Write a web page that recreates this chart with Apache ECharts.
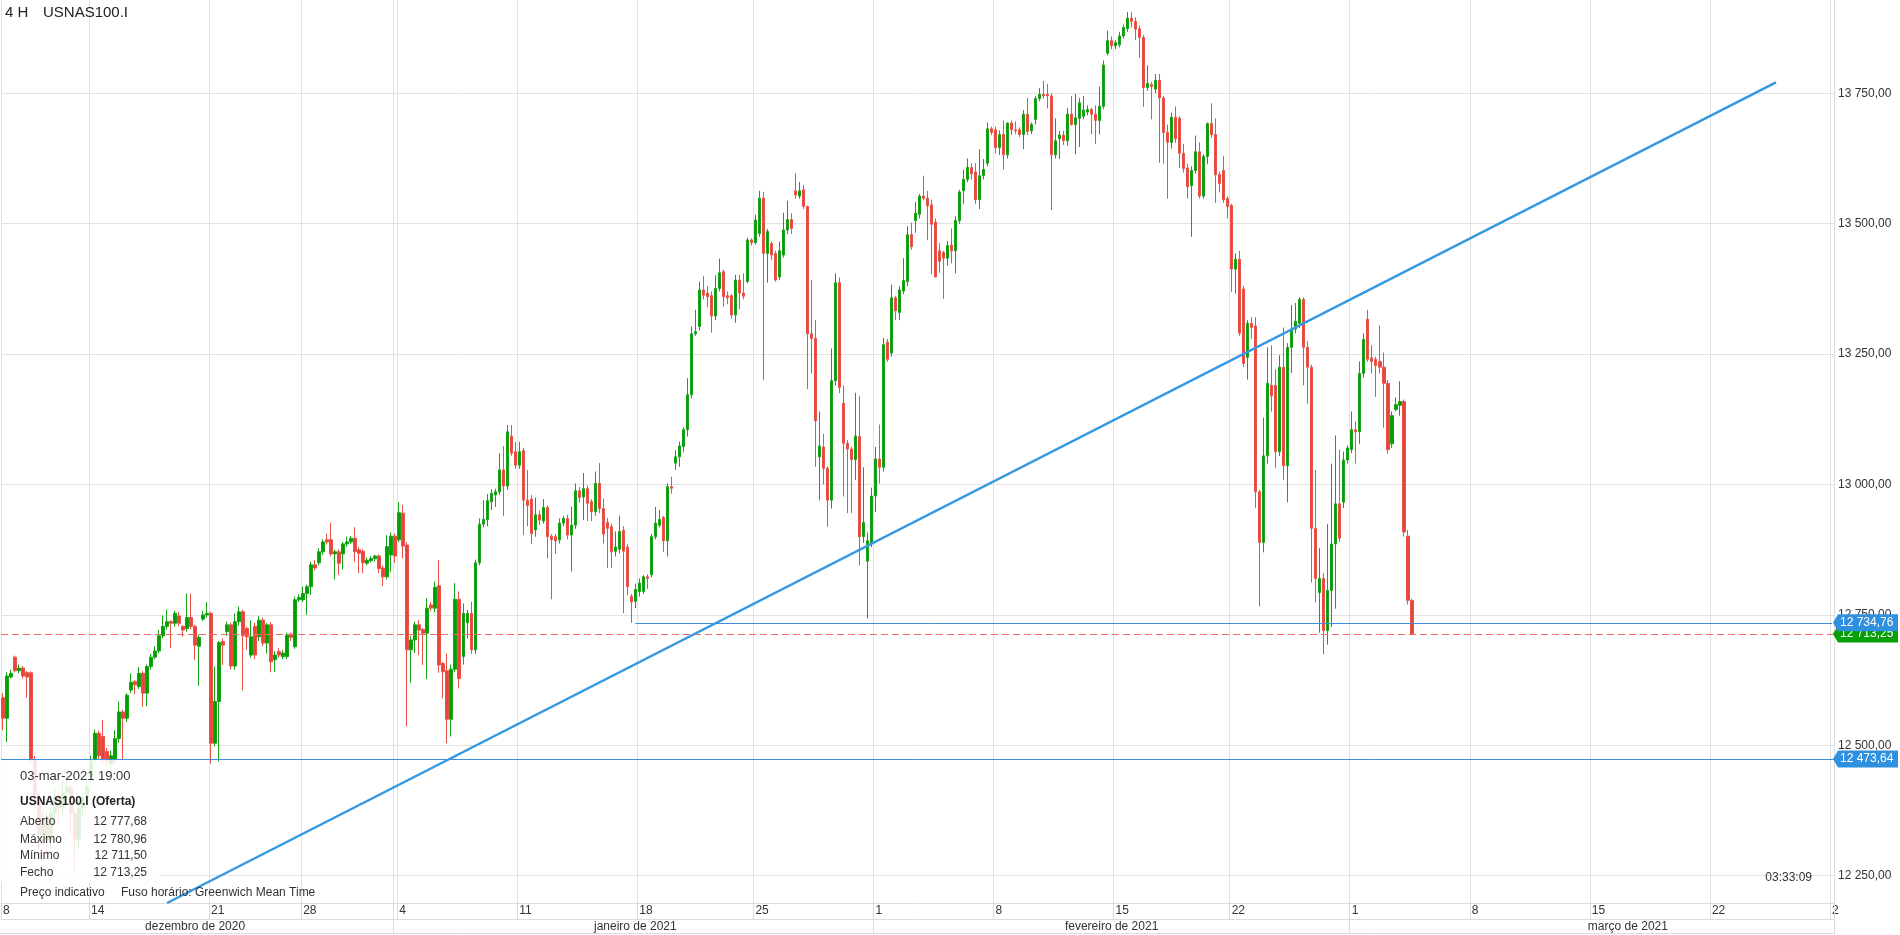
<!DOCTYPE html>
<html><head><meta charset="utf-8">
<script src="https://cdn.jsdelivr.net/npm/echarts@6/dist/echarts.min.js"></script>
<style>html,body{margin:0;padding:0;background:#fff;}#c{width:1900px;height:935px;}</style>
</head><body><div id="c"></div>
<script>
const opens=[
12591,12552,12631,12669,12643,12648,12640,12639,12472,12400,
12330,12360,12320,12370,12400,12380,12410,12420,12370,12320,
12380,12400,12440,12472,12523,12517,12488,12465,12472,12513,
12564,12552,12606,12622,12613,12638,12600,12651,12669,12681,
12710,12728,12737,12734,12748,12728,12724,12745,12728,12690,
12742,12750,12753,12504,12584,12699,12718,12731,12652,12737,
12756,12724,12673,12728,12708,12740,12696,12731,12664,12680,
12670,12670,12713,12689,12779,12779,12791,12804,12846,12850,
12871,12894,12894,12867,12871,12867,12886,12890,12897,12875,
12872,12849,12854,12858,12863,12840,12823,12865,12901,12894,
12945,12884,12683,12702,12731,12722,12715,12769,12763,12806,
12657,12643,12550,12646,12780,12670,12735,12753,12683,12850,
12924,12933,12967,12980,12986,13028,12997,13093,13063,13037,
13065,12970,12972,12913,12942,12930,12956,12901,12900,12894,
12926,12935,12903,12922,12988,12976,12992,12967,12948,13002,
12954,12927,12919,12872,12876,12912,12880,12786,12776,12795,
12795,12823,12827,12900,12922,12937,12892,12996,13041,13053,
13073,13105,13172,13289,13303,13373,13367,13362,13323,13376,
13408,13362,13362,13325,13392,13367,13389,13469,13464,13481,
13549,13443,13462,13443,13398,13440,13488,13508,13563,13553,
13565,13533,13289,13280,13053,13072,13031,12970,13199,13387,
13156,13079,13068,13048,13092,12900,12853,12888,12978,13049,
13033,13273,13252,13358,13330,13371,13389,13479,13506,13518,
13553,13549,13536,13503,13448,13445,13434,13459,13448,13506,
13563,13585,13608,13599,13546,13592,13616,13682,13680,13646,
13671,13632,13693,13680,13680,13671,13710,13678,13700,13740,
13748,13748,13745,13632,13663,13670,13659,13710,13690,13702,
13706,13714,13719,13710,13698,13725,13827,13851,13841,13843,
13860,13874,13894,13888,13874,13857,13761,13767,13758,13775,
13741,13675,13656,13704,13702,13635,13607,13573,13602,13638,
13553,13629,13692,13671,13594,13602,13548,13535,13413,13432,
13375,13244,13309,13304,12986,12889,13055,13190,13190,13063,
13225,13036,13263,13298,13309,13355,13263,13225,12916,12793,
12820,12720,12797,12886,12963,12966,13047,13067,13105,13101,
13213,13317,13243,13240,13236,13225,13194,13078,13144,13152,
13159,12901,12777.68];
const closes=[
12552,12633,12638,12643,12648,12633,12631,12472,12400,12330,
12360,12320,12370,12400,12380,12410,12420,12370,12320,12380,
12400,12420,12470,12523,12480,12472,12470,12480,12513,12564,
12552,12596,12621,12616,12638,12600,12651,12669,12681,12710,
12728,12737,12734,12753,12734,12721,12745,12728,12692,12707,
12750,12753,12504,12584,12697,12692,12731,12652,12737,12756,
12710,12708,12708,12673,12740,12696,12731,12660,12673,12673,
12677,12711,12707,12779,12784,12791,12804,12846,12840,12871,
12890,12890,12867,12871,12849,12886,12890,12897,12871,12868,
12850,12855,12858,12863,12839,12823,12881,12901,12863,12946,
12882,12683,12702,12731,12721,12715,12763,12763,12803,12654,
12641,12550,12646,12780,12628,12753,12753,12683,12850,12924,
12933,12969,12983,12986,13028,12997,13101,13060,13037,13063,
12970,12960,12906,12942,12932,12956,12900,12894,12892,12926,
12935,12903,12922,12988,12975,12992,12964,12948,13002,12954,
12905,12916,12871,12880,12910,12872,12804,12775,12799,12811,
12823,12820,12900,12926,12933,12892,12996,12993,13053,13074,
13105,13172,13289,13293,13373,13363,13360,13323,13376,13406,
13360,13358,13325,13392,13367,13361,13469,13464,13507,13549,
13443,13485,13440,13392,13448,13488,13508,13491,13555,13563,
13533,13289,13280,13122,13074,13031,12970,13199,13387,13186,
13079,13068,13048,13093,12900,12927,12892,12978,13049,13033,
13268,13240,13358,13333,13373,13391,13479,13456,13520,13553,
13549,13534,13499,13398,13428,13434,13458,13448,13506,13561,
13585,13608,13596,13546,13592,13604,13682,13675,13646,13671,
13632,13693,13680,13678,13671,13710,13677,13690,13740,13748,
13745,13745,13632,13659,13670,13659,13710,13690,13703,13732,
13718,13719,13710,13698,13725,13804,13851,13841,13847,13860,
13876,13894,13888,13873,13857,13761,13769,13763,13775,13741,
13675,13656,13704,13663,13635,13606,13571,13602,13638,13553,
13629,13692,13671,13594,13577,13546,13533,13413,13432,13290,
13232,13309,13301,12986,12889,13055,13194,13170,13063,13225,
13036,13263,13298,13313,13355,13263,13225,12916,12820,12820,
12720,12797,12886,12963,12897,13047,13070,13105,13101,13213,
13278,13240,13236,13228,13225,13194,13067,13132,13153,13159,
12909,12778,12713.25];
const lows=[
12529,12506,12628,12640,12638,12628,12591,12465,12380,12300,
12310,12290,12300,12360,12350,12370,12395,12330,12260,12300,
12365,12390,12430,12465,12470,12465,12460,12455,12465,12505,
12472,12545,12600,12598,12608,12574,12575,12645,12665,12676,
12705,12722,12686,12728,12728,12708,12718,12722,12664,12614,
12738,12745,12465,12498,12469,12654,12710,12645,12645,12730,
12605,12683,12668,12665,12700,12690,12676,12640,12641,12668,
12665,12665,12700,12685,12775,12775,12750,12788,12835,12845,
12865,12885,12862,12818,12826,12837,12880,12886,12852,12830,
12830,12845,12850,12852,12830,12805,12818,12832,12850,12890,
12858,12536,12620,12677,12673,12654,12627,12757,12755,12639,
12590,12504,12517,12640,12609,12655,12705,12675,12675,12845,
12918,12920,12951,12957,12980,12940,12990,13055,13030,13030,
12903,12920,12886,12900,12922,12925,12858,12780,12867,12887,
12920,12895,12833,12915,12965,12932,12930,12930,12940,12945,
12887,12840,12840,12862,12868,12753,12788,12735,12763,12785,
12790,12800,12822,12895,12918,12871,12862,12983,13028,13034,
13062,13092,13165,13285,13295,13355,13340,13291,13315,13370,
13341,13346,13318,13310,13336,13355,13386,13458,13460,13475,
13200,13387,13430,13389,13392,13435,13480,13480,13548,13548,
13528,13183,13213,13034,12970,13000,12919,12954,13190,13175,
12977,12945,12945,13009,12845,12888,12743,12880,12947,13002,
13025,13235,13245,13315,13315,13365,13380,13450,13483,13510,
13545,13469,13403,13397,13406,13356,13420,13424,13405,13500,
13538,13580,13585,13538,13528,13585,13610,13670,13635,13632,
13604,13625,13670,13672,13666,13643,13670,13672,13690,13735,
13740,13721,13526,13625,13624,13651,13650,13688,13633,13647,
13700,13708,13671,13653,13671,13720,13823,13835,13835,13838,
13855,13868,13876,13852,13818,13724,13755,13700,13750,13617,
13615,13548,13644,13655,13607,13598,13548,13475,13596,13548,
13548,13614,13665,13540,13560,13540,13510,13369,13366,13285,
13225,13201,13279,12955,12766,12870,13040,13140,13032,13055,
13009,12966,13214,13290,13300,13190,13155,12812,12774,12716,
12674,12693,12727,12762,12890,12955,13040,13060,13040,13078,
13205,13235,13213,13168,13213,13109,13059,13070,13140,13132,
12900,12770,12711.50];
const highs=[
12600,12640,12645,12672,12655,12652,12642,12642,12480,12410,
12375,12370,12380,12420,12410,12430,12440,12425,12380,12390,
12410,12440,12480,12530,12528,12549,12495,12490,12529,12584,
12568,12600,12638,12625,12650,12642,12655,12675,12690,12721,
12749,12760,12740,12758,12756,12730,12791,12791,12731,12712,
12758,12775,12756,12651,12700,12705,12737,12735,12753,12766,
12760,12728,12740,12735,12748,12745,12735,12736,12680,12686,
12683,12716,12716,12785,12790,12804,12808,12852,12855,12878,
12895,12906,12927,12875,12876,12890,12900,12901,12918,12880,
12876,12860,12863,12865,12866,12845,12903,12908,12906,12966,
12961,12890,12710,12737,12740,12725,12782,12775,12814,12855,
12660,12676,12655,12811,12795,12772,12760,12775,12856,12935,
12970,12982,12991,12992,13060,13074,13114,13114,13082,13082,
13070,13028,12980,12975,12950,12972,12960,12905,12905,12935,
12940,12942,12957,13002,12995,13022,12998,12972,13025,13041,
12973,12936,12925,12910,12940,12920,12885,12790,12810,12820,
12826,12828,12905,12957,12951,12940,13002,13015,13066,13082,
13110,13204,13303,13335,13389,13400,13380,13370,13401,13433,
13412,13370,13365,13402,13402,13405,13473,13472,13517,13563,
13561,13490,13466,13448,13466,13521,13544,13520,13597,13580,
13574,13535,13392,13315,13140,13097,13035,13261,13405,13397,
13190,13085,13072,13176,13170,13033,12908,12994,13072,13115,
13281,13279,13383,13362,13380,13434,13495,13502,13542,13557,
13592,13563,13546,13510,13463,13448,13467,13491,13514,13565,
13604,13625,13616,13616,13643,13624,13694,13686,13686,13679,
13698,13694,13698,13696,13685,13718,13741,13694,13745,13760,
13774,13768,13750,13702,13678,13678,13722,13745,13749,13741,
13745,13727,13722,13727,13763,13813,13870,13859,13852,13868,
13882,13906,13906,13896,13880,13862,13804,13772,13787,13787,
13745,13690,13713,13725,13706,13653,13615,13610,13669,13656,
13633,13694,13731,13702,13600,13630,13553,13538,13443,13448,
13381,13315,13321,13321,12990,13128,13263,13267,13221,13248,
13301,13271,13344,13348,13359,13359,13275,13230,13028,12878,
12830,12924,13040,13094,13067,13063,13075,13140,13121,13236,
13290,13335,13267,13245,13305,13253,13200,13140,13167,13198,
13163,12913,12780.96];

// axis content
const totalSlots = 458;                 // 4H slots shown on the time axis (history + empty future)
const weekTickIndex  = [0,22,52,75,99,129,159,188,218,248,278,307,337,367,397,427,457];
const weekTickLabels = ['8','14','21','28','4','11','18','25','1','8','15','22','1','8','15','22','2'];
const monthSepIndex  = [98,218,337];
const monthLabelIndex = [48,158,277,406];
const monthLabels = ['dezembro de 2020','janeiro de 2021','fevereiro de 2021','março de 2021'];
const yTickValues = [12250,12500,12750,13000,13250,13500,13750];
const yMin = 12197.7, yMax = 13928.9;

// annotation levels
const lastClose = 12713.25;
const resistLevel = 12734.76, resistStartIndex = 158;
const supportLevel = 12473.64;
const trendStart = [41, 12197.7], trendEnd = [443, 13771];

// info box
const infoDate = '03-mar-2021 19:00';
const infoTitle = 'USNAS100.I (Oferta)';
const infoRows = [['Aberto','12 777,68'],['Máximo','12 780,96'],['Mínimo','12 711,50'],['Fecho','12 713,25']];

const FONT = '"Liberation Sans", Arial, sans-serif';
const cats = Array.from({length: totalSlots}, (_, i) => 'c' + i);
const n = Math.min(opens.length, closes.length, lows.length, highs.length);
const ohlc = [];
for (let i = 0; i < n; i++) ohlc.push([opens[i], closes[i], lows[i], highs[i]]);

const weekLabelMap = new Map(weekTickIndex.map((k, j) => [k, weekTickLabels[j]]));
const splitSet = new Set(weekTickIndex.concat(monthSepIndex));
const monthLabelMap = new Map(monthLabelIndex.map((k, j) => [k, monthLabels[j]]));
const monthSepSet = new Set(monthSepIndex);

function fmtPrice(v) {
  const neg = v < 0; v = Math.abs(v);
  const s = v.toFixed(2);
  let [ip, dp] = s.split('.');
  ip = ip.replace(/\B(?=(\d{3})+(?!\d))/g, ' ');
  return (neg ? '-' : '') + ip + ',' + dp;
}

const chart = echarts.init(document.getElementById('c'), null, {renderer: 'canvas'});
const option = {
  animation: false,
  backgroundColor: '#ffffff',
  grid: {left: 0, top: 0, width: 1834, height: 903, containLabel: false},
  xAxis: [{
    type: 'category', data: cats, boundaryGap: true, position: 'bottom',
    axisLine: {show: true, lineStyle: {color: '#dcdcdc', width: 1}},
    axisTick: {show: true, length: 16, interval: (i) => splitSet.has(i), lineStyle: {color: '#dcdcdc'}},
    splitLine: {show: true, interval: (i) => splitSet.has(i), lineStyle: {color: '#e2e2e2', width: 1}},
    axisLabel: {
      show: true, interval: (i) => weekLabelMap.has(i),
      formatter: (v, i) => weekLabelMap.get(i) || '',
      align: 'left', verticalAlign: 'top', margin: 2, lineHeight: 12,
      color: '#333', fontSize: 12, fontFamily: FONT
    }
  }, {
    type: 'category', data: cats, boundaryGap: true, position: 'bottom', offset: 16,
    axisLine: {show: true, lineStyle: {color: '#dcdcdc', width: 1}},
    axisTick: {show: true, length: 14, interval: (i) => monthSepSet.has(i), lineStyle: {color: '#dcdcdc'}},
    splitLine: {show: false},
    axisLabel: {
      show: true, interval: (i) => monthLabelMap.has(i),
      formatter: (v, i) => monthLabelMap.get(i) || '',
      align: 'center', verticalAlign: 'top', margin: 2, lineHeight: 12,
      color: '#333', fontSize: 12, fontFamily: FONT
    }
  }],
  yAxis: {
    type: 'value', position: 'right', min: yMin, max: yMax, scale: true,
    axisLine: {show: true, lineStyle: {color: '#dcdcdc'}},
    axisTick: {show: false, customValues: yTickValues},
    splitLine: {show: true, lineStyle: {color: '#e2e2e2', width: 1}},
    axisLabel: {
      show: true, customValues: yTickValues, margin: 4,
      formatter: (v) => fmtPrice(v), color: '#333', fontSize: 12, fontFamily: FONT
    }
  },
  series: [{
    type: 'candlestick', data: ohlc, barWidth: 3, z: 3, clip: true,
    itemStyle: {color: '#00a000', color0: '#e8453c', borderColor: '#16a316', borderColor0: '#ea5248', borderWidth: 1},
    markLine: {
      silent: true, symbol: ['none', 'none'], animation: false,
      label: {show: false},
      data: [
        {yAxis: lastClose, lineStyle: {color: '#ef6b63', width: 1, type: [7, 4]}},
        {yAxis: supportLevel, lineStyle: {color: '#3b8fd9', width: 1, type: 'solid'}},
        [{coord: [resistStartIndex, resistLevel], lineStyle: {color: '#3b8fd9', width: 1, type: 'solid'}},
         {coord: [totalSlots - 1, resistLevel]}],
        [{coord: trendStart, lineStyle: {color: '#3598e3', width: 2.5, type: 'solid'}},
         {coord: trendEnd}]
      ]
    }
  }]
};
chart.setOption(option);

function tag(value, color, z) {
  const y = chart.convertToPixel({yAxisIndex: 0}, value);
  return [
    {type: 'polygon', z: z, shape: {points: [[1833, y], [1838, y - 8.5], [1898, y - 8.5], [1898, y + 8.5], [1838, y + 8.5]]},
     style: {fill: color}},
    {type: 'text', z: z + 1, x: 1840, y: y,
     style: {text: fmtPrice(value), fill: '#ffffff', font: '12px ' + FONT, align: 'left', verticalAlign: 'middle',
             textAlign: 'left', textVerticalAlign: 'middle'}}
  ];
}
function txt(x, y, s, opts) {
  opts = opts || {};
  return {type: 'text', z: 60, x: x, y: y,
    style: {text: s, fill: opts.color || '#333', font: (opts.weight || 'normal') + ' ' + (opts.size || 12) + 'px ' + FONT,
            align: opts.align || 'left', verticalAlign: 'middle', textAlign: opts.align || 'left', textVerticalAlign: 'middle'}};
}

const g = [];
// title
g.push(txt(5, 13, '4 H', {size: 15, color: '#222'}));
g.push(txt(43, 13, 'USNAS100.I', {size: 15, color: '#222'}));
// info box
g.push({type: 'rect', z: 50, shape: {x: 0, y: 760, width: 160, height: 122}, style: {fill: 'rgba(255,255,255,0.86)'}});
g.push(txt(20, 776, infoDate, {size: 13}));
g.push(txt(20, 802, infoTitle, {size: 12, weight: 'bold', color: '#222'}));
const rowY = [822, 840, 856, 873];
infoRows.forEach((r, j) => {
  g.push(txt(20, rowY[j], r[0], {size: 12}));
  g.push(txt(147, rowY[j], r[1], {size: 12, align: 'right'}));
});
g.push(txt(20, 893, 'Preço indicativo', {size: 12}));
g.push(txt(121, 893, 'Fuso horário: Greenwich Mean Time', {size: 12}));
// countdown
g.push(txt(1812, 878, '03:33:09', {size: 12, align: 'right'}));
// bottom frame
g.push({type: 'line', z: 10, shape: {x1: 0, y1: 933.5, x2: 1834, y2: 933.5}, style: {stroke: '#dcdcdc', lineWidth: 1}});
g.push({type: 'line', z: 10, shape: {x1: 1834.5, y1: 903, x2: 1834.5, y2: 934}, style: {stroke: '#dcdcdc', lineWidth: 1}});
// price tags
tag(lastClose, '#05a005', 100).forEach(e => g.push(e));
tag(resistLevel, '#2f90e0', 110).forEach(e => g.push(e));
tag(supportLevel, '#2f90e0', 110).forEach(e => g.push(e));

chart.setOption({graphic: g});
</script>
</body></html>
